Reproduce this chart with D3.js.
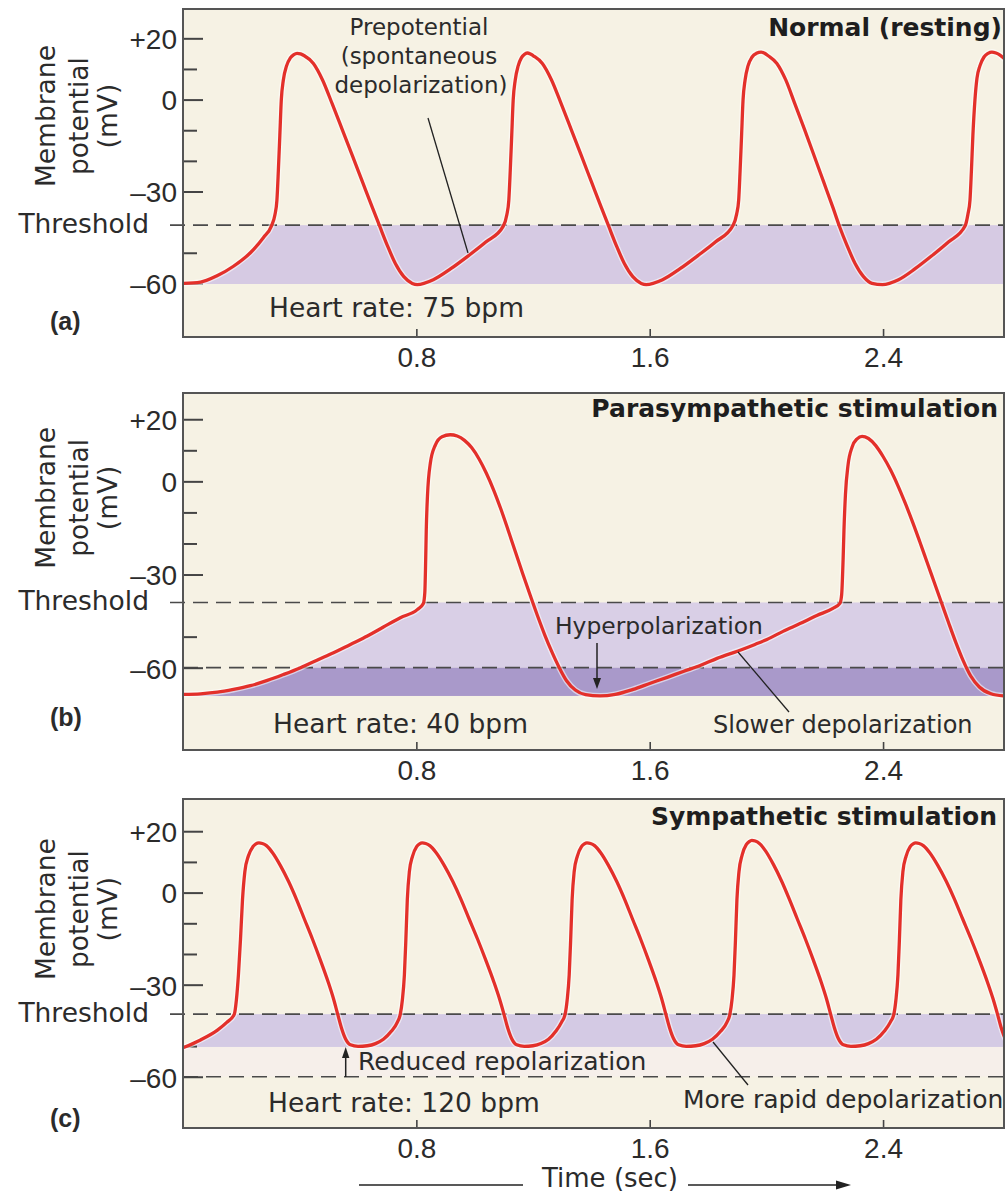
<!DOCTYPE html>
<html><head><meta charset="utf-8">
<script src="https://cdn.jsdelivr.net/npm/d3@7"></script>
<style>
html,body{margin:0;padding:0;background:#fff;}
svg{display:block;}
</style></head><body>
<svg id="chart" width="1005" height="1192"></svg>
<script>
// ================= DATA =================
const timeTicks = [0.8, 1.6, 2.4];
const majorTicks = [20, 0, -30, -60];
const majorTickLabels = ["+20", "0", "\u201330", "\u201360"];
const minorTicks = [10, -10, -20, -50];
const panelTags = ["(a)", "(b)", "(c)"];
const panelTitles = ["Normal (resting)", "Parasympathetic stimulation", "Sympathetic stimulation"];
const heartRates = [75, 40, 120];
const thresholds = [-41, -39, -39.6];

// [time (s), membrane potential (mV)]
const normalCurve = [
[0.002,-60.0],[0.060,-59.6],[0.115,-57.6],[0.173,-54.4],[0.231,-50.0],[0.276,-45.0],[0.303,-41.3],
[0.315,-37.7],[0.322,-32.8],[0.327,-23.0],[0.332,-11.6],[0.337,-0.1],[0.344,6.4],[0.355,11.0],[0.368,13.6],[0.380,14.7],[0.391,15.1],[0.403,14.9],
[0.416,14.3],[0.447,11.8],[0.478,6.5],[0.512,-1.5],[0.546,-9.8],[0.581,-18.4],[0.615,-26.8],[0.649,-35.2],[0.675,-41.5],[0.700,-47.5],[0.728,-53.5],[0.757,-57.8],[0.786,-60.0],[0.803,-60.4],
[0.858,-58.8],[0.918,-55.2],[0.978,-51.0],[1.038,-46.5],[1.098,-41.3],
[1.110,-37.7],[1.117,-32.8],[1.122,-23.0],[1.127,-11.6],[1.132,-0.1],[1.139,6.4],[1.149,11.0],[1.160,13.6],[1.170,14.7],[1.180,15.2],[1.191,14.9],
[1.201,14.3],[1.232,11.8],[1.263,6.5],[1.297,-1.5],[1.331,-9.8],[1.366,-18.4],[1.400,-26.8],[1.434,-35.2],[1.460,-41.5],[1.485,-47.5],[1.513,-53.5],[1.542,-57.8],[1.571,-60.0],[1.588,-60.4],
[1.644,-58.8],[1.704,-55.2],[1.764,-51.0],[1.825,-46.5],[1.886,-41.0],
[1.898,-37.4],[1.905,-32.8],[1.910,-23.0],[1.915,-11.6],[1.920,-0.1],[1.927,6.4],[1.937,11.0],[1.951,13.9],[1.966,15.1],[1.982,15.5],[1.994,15.1],
[2.006,14.3],[2.036,11.8],[2.066,6.5],[2.098,-1.5],[2.131,-9.8],[2.164,-18.4],[2.196,-26.8],[2.228,-35.2],[2.251,-41.5],[2.276,-47.5],[2.304,-53.5],[2.333,-57.8],[2.362,-60.0],[2.398,-60.4],
[2.453,-58.8],[2.510,-55.2],[2.567,-51.0],[2.624,-46.5],[2.681,-41.3],
[2.691,-37.4],[2.698,-32.8],[2.703,-23.0],[2.708,-11.6],[2.715,-0.1],[2.722,7.0],[2.732,11.0],[2.746,13.9],[2.760,15.1],[2.773,15.5],[2.787,15.2],[2.801,14.5],[2.828,11.9],[2.855,7.0]
];
const paraCurve = [
[0.002,-68.6],[0.060,-68.4],[0.118,-67.9],[0.173,-67.0],[0.231,-65.8],[0.289,-64.1],[0.344,-62.2],[0.403,-60.0],[0.461,-57.5],[0.516,-55.2],[0.574,-52.5],[0.632,-49.8],[0.687,-46.9],[0.745,-43.9],[0.803,-41.3],[0.824,-39.3],
[0.829,-35.8],[0.832,-25.2],[0.834,-15.6],[0.838,-4.9],[0.848,5.9],[0.865,11.7],[0.888,14.4],[0.916,15.0],
[0.940,14.6],[0.965,13.2],[0.990,10.8],[1.015,7.2],[1.040,2.6],[1.065,-2.8],[1.090,-9.0],[1.115,-15.8],[1.140,-22.8],[1.165,-29.8],[1.190,-36.6],[1.215,-43.2],[1.240,-49.4],[1.265,-55.0],[1.290,-60.0],[1.315,-64.2],[1.345,-67.2],[1.380,-68.7],[1.430,-69.1],
[1.482,-68.6],[1.543,-67.0],[1.602,-65.0],[1.660,-63.1],[1.715,-61.2],[1.773,-59.3],[1.831,-57.0],[1.903,-54.6],[1.961,-52.5],[2.002,-50.9],[2.057,-48.3],[2.115,-45.8],[2.173,-43.2],[2.228,-40.9],[2.252,-39.3],
[2.258,-36.5],[2.263,-25.2],[2.266,-15.6],[2.271,-4.3],[2.280,5.3],[2.294,11.1],[2.311,13.7],[2.328,14.5],
[2.350,13.8],[2.375,11.5],[2.400,8.0],[2.425,3.8],[2.450,-1.2],[2.475,-6.8],[2.500,-12.8],[2.525,-19.2],[2.550,-25.8],[2.575,-32.4],[2.600,-39.0],[2.625,-45.6],[2.650,-52.0],[2.675,-57.8],[2.700,-62.6],[2.730,-66.2],[2.770,-68.4],[2.814,-69.1],[2.835,-69.2]
];
const sympCurve = [
[0.002,-50.5],[0.060,-48.0],[0.118,-44.8],[0.150,-42.3],[0.176,-39.6],
[0.183,-35.0],[0.190,-26.8],[0.197,-15.4],[0.204,-2.3],[0.212,6.8],[0.224,11.9],[0.240,15.0],[0.250,15.9],[0.260,16.2],[0.272,16.0],
[0.286,15.3],[0.307,13.0],[0.334,8.8],[0.362,3.6],[0.389,-2.2],[0.416,-8.6],[0.444,-15.2],[0.471,-22.0],[0.498,-29.2],[0.516,-34.6],[0.530,-39.5],[0.543,-44.0],[0.557,-47.6],[0.574,-49.6],[0.600,-50.1],[0.632,-49.9],[0.660,-49.2],[0.687,-47.8],[0.714,-45.2],[0.735,-42.2],[0.745,-39.6],
[0.752,-35.0],[0.759,-26.8],[0.764,-15.4],[0.769,-2.3],[0.776,6.8],[0.787,11.9],[0.801,15.0],[0.811,15.9],[0.820,16.2],[0.832,16.0],
[0.846,15.3],[0.868,13.0],[0.896,8.8],[0.925,3.6],[0.953,-2.2],[0.981,-8.6],[1.010,-15.2],[1.038,-22.0],[1.066,-29.2],[1.085,-34.6],[1.100,-39.5],[1.113,-44.0],[1.127,-47.6],[1.144,-49.6],[1.170,-50.1],[1.200,-49.9],[1.227,-49.2],[1.253,-47.8],[1.278,-45.2],[1.298,-42.2],[1.310,-39.6],
[1.317,-35.0],[1.324,-26.8],[1.329,-15.4],[1.334,-2.3],[1.341,6.8],[1.352,11.9],[1.366,15.0],[1.376,15.9],[1.385,16.2],[1.397,16.0],
[1.411,15.3],[1.432,13.0],[1.459,8.8],[1.487,3.6],[1.514,-2.2],[1.541,-8.6],[1.569,-15.2],[1.596,-22.0],[1.623,-29.2],[1.641,-34.6],[1.655,-39.5],[1.668,-44.0],[1.682,-47.6],[1.699,-49.6],[1.725,-50.1],[1.758,-49.9],[1.787,-49.2],[1.815,-47.8],[1.843,-45.2],[1.865,-42.2],[1.875,-39.6],
[1.882,-35.0],[1.889,-26.8],[1.894,-15.4],[1.899,-2.3],[1.906,6.8],[1.917,12.3],[1.931,15.6],[1.941,16.6],[1.950,17.0],[1.962,16.8],
[1.976,16.0],[1.997,13.6],[2.024,9.2],[2.052,3.8],[2.079,-2.2],[2.106,-8.6],[2.134,-15.2],[2.161,-22.0],[2.188,-29.2],[2.206,-34.6],[2.220,-39.5],[2.233,-44.0],[2.247,-47.6],[2.264,-49.6],[2.290,-50.1],[2.322,-49.9],[2.350,-49.2],[2.377,-47.8],[2.404,-45.2],[2.425,-42.2],[2.437,-39.6],
[2.444,-35.0],[2.451,-26.8],[2.456,-15.4],[2.461,-2.3],[2.468,6.8],[2.479,11.9],[2.493,15.0],[2.503,15.9],[2.512,16.2],[2.524,16.0],
[2.538,15.3],[2.560,13.0],[2.588,8.8],[2.617,3.6],[2.645,-2.2],[2.673,-8.6],[2.702,-15.2],[2.730,-22.0],[2.758,-29.2],[2.777,-34.6],[2.792,-39.5],[2.805,-44.0],[2.819,-47.6],[2.836,-49.6]
];
// shaded bands [low mV, high mV]
const normalBands = [[-60.2, -41]];
const paraBands = [[-60, -39], [-69.1, -60]];
const sympBands = [[-50.3, -39.6], [-60, -50.3]];
// dashed reference levels (mV)
const normalRefs = [-41];
const paraRefs = [-39, -60];
const sympRefs = [-39.6, -60];

// ================= LAYOUT / STYLE =================
const X0 = 183, X1 = 1004;
const TEXT = "#2b2b2b";
const SANS = "'DejaVu Sans', Verdana, sans-serif";
const ARIAL = "'Liberation Sans', Arial, sans-serif";
const layout = [
  {top:9,   bottom:337,  vMin:-77.5, vMax:29.57, titleX:1002, titleY:36,  rateX:269, rateY:317,  tagY:330},
  {top:393, bottom:750,  vMin:-86.5, vMax:28.45, titleX:998,  titleY:417, rateX:273, rateY:733,  tagY:726},
  {top:799, bottom:1128, vMin:-76.7, vMax:30.5,  titleX:997,  titleY:825, rateX:268, rateY:1112, tagY:1127}
];
const bandColors = [["#d6cae3"], ["#d9cfe6", "#a999ca"], ["#d4cae4", "#f6efea"]];
const refStart = [[170], [170, 183], [170, 183]];
const curves = [normalCurve, paraCurve, sympCurve];
const bands = [normalBands, paraBands, sympBands];
const refs = [normalRefs, paraRefs, sympRefs];

const svg = d3.select("#chart");
const defs = svg.append("defs");
const x = d3.scaleLinear().domain([0, 2.8146]).range([X0, X1]);

layout.forEach((L, i) => {
  const y = d3.scaleLinear().domain([L.vMin, L.vMax]).range([L.bottom, L.top]);
  const g = svg.append("g");
  const data = curves[i];
  const thr = thresholds[i];

  g.append("rect").attr("x", X0).attr("y", L.top).attr("width", X1 - X0).attr("height", L.bottom - L.top)
    .attr("fill", "#f6f2e4");

  const ci = data.findIndex(d => d[1] >= thr - 0.5);
  const rise = data.slice(0, ci + 1);
  const tc = data[ci][0];
  const cp = defs.append("clipPath").attr("id", "bandclip" + i);
  cp.append("path").attr("d", d3.area().x(d => x(d[0])).y0(L.bottom).y1(d => y(d[1])).curve(d3.curveMonotoneX)(rise));
  cp.append("rect").attr("x", x(tc) - 0.5).attr("y", L.top).attr("width", X1 - x(tc) + 0.5).attr("height", L.bottom - L.top);

  const bg = g.append("g").attr("clip-path", `url(#bandclip${i})`);
  bands[i].forEach((b, j) => {
    bg.append("rect").attr("x", X0).attr("width", X1 - X0)
      .attr("y", y(b[1])).attr("height", y(b[0]) - y(b[1]))
      .attr("fill", bandColors[i][j]);
  });

  refs[i].forEach((r, j) => {
    g.append("line").attr("x1", refStart[i][j]).attr("x2", X1).attr("y1", y(r)).attr("y2", y(r))
      .attr("stroke", "#4a4a4a").attr("stroke-width", 1.7).attr("stroke-dasharray", "15,8");
  });

  const ya = g.append("g").attr("transform", `translate(${X0},0)`)
    .call(d3.axisLeft(y).tickValues(majorTicks).tickSize(-20).tickPadding(6)
      .tickFormat((d, k) => majorTickLabels[k]));
  ya.select(".domain").remove();
  ya.selectAll("line").attr("stroke", "#444").attr("stroke-width", 2);
  ya.selectAll("text").attr("font-family", ARIAL).attr("font-size", 28).attr("fill", TEXT).attr("dy", "0.37em");
  const ym = g.append("g").attr("transform", `translate(${X0},0)`)
    .call(d3.axisLeft(y).tickValues(minorTicks).tickSize(-14).tickFormat(""));
  ym.select(".domain").remove();
  ym.selectAll("line").attr("stroke", "#444").attr("stroke-width", 2);

  const xa = g.append("g").attr("transform", `translate(0,${L.bottom})`)
    .call(d3.axisBottom(x).tickValues(timeTicks).tickSizeInner(-8).tickSizeOuter(0).tickPadding(10)
      .tickFormat(d3.format(".1f")));
  xa.select(".domain").remove();
  xa.selectAll("line").attr("stroke", "#444").attr("stroke-width", 1.6);
  xa.selectAll("text").attr("font-family", ARIAL).attr("font-size", 28).attr("fill", TEXT);

  const cc = defs.append("clipPath").attr("id", "plotclip" + i);
  cc.append("rect").attr("x", X0).attr("y", L.top).attr("width", X1 - X0).attr("height", L.bottom - L.top);
  const line = d3.line().x(d => x(d[0])).y(d => y(d[1])).curve(d3.curveMonotoneX);
  const lg = g.append("g").attr("clip-path", `url(#plotclip${i})`);
  lg.append("path").attr("d", line(data)).attr("fill", "none").attr("stroke", "#fff")
    .attr("stroke-opacity", 0.55).attr("stroke-width", 6).attr("stroke-linejoin", "round");
  lg.append("path").attr("d", line(data)).attr("fill", "none").attr("stroke", "#e3302a")
    .attr("stroke-width", 3.3).attr("stroke-linejoin", "round");

  g.append("rect").attr("x", X0).attr("y", L.top).attr("width", X1 - X0).attr("height", L.bottom - L.top)
    .attr("fill", "none").attr("stroke", "#555").attr("stroke-width", 2);

  g.append("text").attr("x", 149).attr("y", y(thr) + 8).attr("text-anchor", "end")
    .attr("font-family", SANS).attr("font-size", 26.5).attr("fill", TEXT).text("Threshold");

  const yc = y(0) + 16.5;
  [["Membrane", 55], ["potential", 88], ["(mV)", 117]].forEach(([t, xb]) => {
    g.append("text").attr("transform", `translate(${xb},${yc}) rotate(-90)`).attr("text-anchor", "middle")
      .attr("font-family", SANS).attr("font-size", 26.5).attr("fill", TEXT).text(t);
  });

  g.append("text").attr("x", 50).attr("y", L.tagY).attr("font-family", ARIAL).attr("font-weight", "bold")
    .attr("font-size", 25).attr("fill", TEXT).text(panelTags[i]);
  g.append("text").attr("x", L.titleX).attr("y", L.titleY).attr("text-anchor", "end").attr("font-family", SANS)
    .attr("font-weight", "bold").attr("font-size", 25).attr("fill", "#1e1e1e").text(panelTitles[i]);
  g.append("text").attr("x", L.rateX).attr("y", L.rateY).attr("font-family", SANS).attr("font-size", 26.5)
    .attr("fill", TEXT).text(`Heart rate: ${heartRates[i]} bpm`);
});

// ---- annotations ----
function txt(s, xx, yy, size, anchor) {
  svg.append("text").attr("x", xx).attr("y", yy).attr("font-family", SANS).attr("font-size", size)
    .attr("fill", TEXT).attr("text-anchor", anchor || "start").text(s);
}
function seg(x1, y1, x2, y2, w) {
  svg.append("line").attr("x1", x1).attr("y1", y1).attr("x2", x2).attr("y2", y2)
    .attr("stroke", "#222").attr("stroke-width", w || 1.3);
}
function tri(pts) {
  svg.append("path").attr("d", "M" + pts.map(p => p.join(",")).join("L") + "Z").attr("fill", "#222");
}
txt("Prepotential", 419, 35, 23, "middle");
txt("(spontaneous", 419, 64, 23, "middle");
txt("depolarization)", 421, 93, 23, "middle");
seg(428, 118, 468, 253);
txt("Hyperpolarization", 555, 634, 23.4);
seg(597, 643, 597, 680, 1.5);
tri([[593, 678], [601, 678], [597, 689]]);
txt("Slower depolarization", 713, 733, 24);
seg(738, 652, 789, 712);
txt("Reduced repolarization", 358, 1070, 25);
seg(345.7, 1077, 345.7, 1057, 1.5);
tri([[342, 1058], [349.4, 1058], [345.7, 1047]]);
txt("More rapid depolarization", 683, 1108, 25);
seg(713, 1042, 748, 1085);
txt("Time (sec)", 610, 1187, 26, "middle");
seg(359, 1185, 523, 1185, 1.4);
seg(688, 1185, 840, 1185, 1.4);
tri([[836, 1180.5], [836, 1189.5], [851, 1185]]);
</script>
</body></html>
